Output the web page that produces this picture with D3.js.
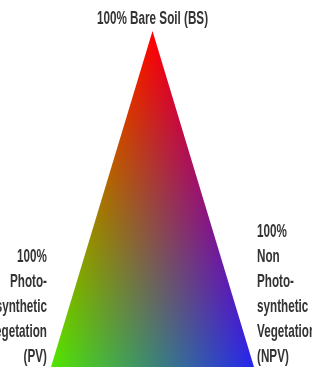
<!DOCTYPE html>
<html>
<head>
<meta charset="utf-8">
<script src="https://cdn.jsdelivr.net/npm/d3@7"></script>
<style>
  html, body { margin: 0; padding: 0; background: #fff; }
  #wrap { position: relative; width: 312px; height: 373px; overflow: hidden; }
  canvas, svg { position: absolute; left: 0; top: 0; }
</style>
</head>
<body>
<div id="wrap"></div>
<script>
// ---- data ----
const corners = ["BS", "PV", "NPV"];
// ternary coordinates (bs, pv, npv) of each corner
const cornerBS  = [1, 0, 0];
const cornerPV  = [0, 1, 0];
const cornerNPV = [0, 0, 1];
const cornerColors = ["#ff0000", "#52e600", "#2626ee"];
const labelBS  = ["100% Bare Soil (BS)"];
const labelPV  = ["100%", "Photo-", "synthetic", "Vegetation", "(PV)"];
const labelNPV = ["100%", "Non", "Photo-", "synthetic", "Vegetation", "(NPV)"];

// ---- layout ----
const W = 312, H = 373;
const x = d3.scaleLinear().domain([0, 1]).range([51, 254]);   // along base (npv + bs/2)
const y = d3.scaleLinear().domain([0, 1]).range([367, 31]);   // bare soil fraction
const px = (bs, pv, npv) => x(npv + bs / 2);
const py = (bs, pv, npv) => y(bs);

const wrap = d3.select("#wrap");
const canvas = wrap.append("canvas").attr("width", W).attr("height", H);
const ctx = canvas.node().getContext("2d");

// offscreen per-pixel barycentric colour field
const off = document.createElement("canvas");
off.width = W; off.height = H;
const octx = off.getContext("2d");
const img = octx.createImageData(W, H);
const cols = cornerColors.map(c => d3.rgb(c));
for (let j = 0; j < H; j++) {
  const bs0 = y.invert(j + 0.5);
  for (let i = 0; i < W; i++) {
    const u = x.invert(i + 0.5);
    let bs = Math.max(0, Math.min(1, bs0));
    let npv = Math.max(0, u - bs / 2);
    let pv = Math.max(0, 1 - bs - npv);
    const s = bs + pv + npv || 1;
    bs /= s; pv /= s; npv /= s;
    const w = [bs, pv, npv];
    const k = (j * W + i) * 4;
    img.data[k]     = w[0] * cols[0].r + w[1] * cols[1].r + w[2] * cols[2].r;
    img.data[k + 1] = w[0] * cols[0].g + w[1] * cols[1].g + w[2] * cols[2].g;
    img.data[k + 2] = w[0] * cols[0].b + w[1] * cols[1].b + w[2] * cols[2].b;
    img.data[k + 3] = 255;
  }
}
octx.putImageData(img, 0, 0);

// clip to the triangle and draw
const verts = [cornerBS, cornerPV, cornerNPV].map(c => [px(...c), py(...c)]);
ctx.save();
ctx.beginPath();
d3.line().context(ctx)(verts);
ctx.closePath();
ctx.clip();
ctx.drawImage(off, 0, 0);
ctx.restore();

// ---- labels ----
const svg = wrap.append("svg").attr("width", W).attr("height", H);
const sx = 0.65;
const font = "'Liberation Sans', Arial, sans-serif";
const txt = (g, s, xx, yy, anchor) =>
  g.append("text")
    .attr("transform", `translate(${xx},${yy}) scale(${sx},1)`)
    .attr("text-anchor", anchor)
    .attr("font-family", font)
    .attr("font-size", 18)
    .attr("font-weight", "bold")
    .attr("fill", "#333")
    .text(s);

const gTop = svg.append("g");
labelBS.forEach((s, i) => txt(gTop, s, px(...cornerBS), 24 + i * 25, "middle"));

const gL = svg.append("g");
labelPV.forEach((s, i) => txt(gL, s, px(...cornerPV) - 4, 362 - (labelPV.length - 1 - i) * 25, "end"));

const gR = svg.append("g");
labelNPV.forEach((s, i) => txt(gR, s, px(...cornerNPV) + 3, 362 - (labelNPV.length - 1 - i) * 25, "start"));
</script>
</body>
</html>
